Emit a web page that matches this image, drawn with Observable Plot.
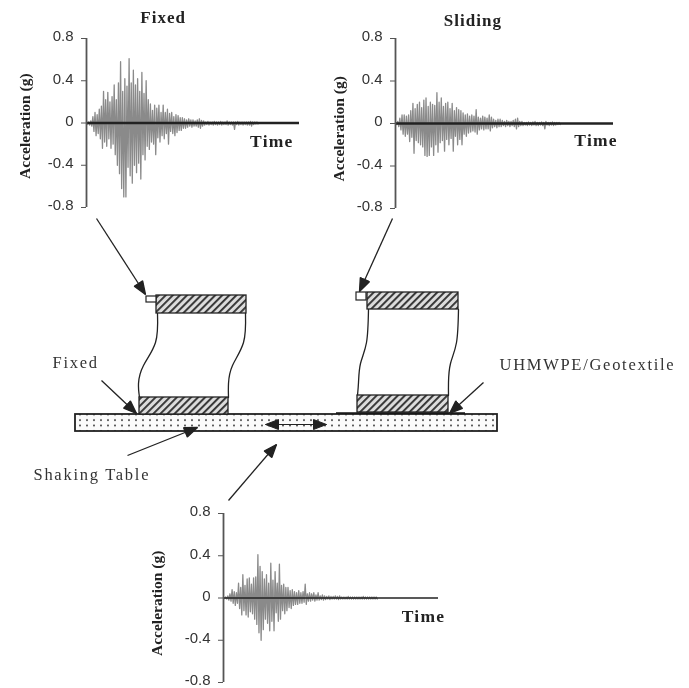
<!DOCTYPE html>
<html>
<head>
<meta charset="utf-8">
<script src="https://cdn.jsdelivr.net/npm/d3@7"></script>
<script src="https://cdn.jsdelivr.net/npm/@observablehq/plot@0.6"></script>
<style>
html,body{margin:0;padding:0;background:#fff}
#fig{position:relative;width:689px;height:688px;overflow:hidden;filter:blur(0.5px)}
#fig svg{position:absolute;overflow:visible;background:transparent}
</style>
</head>
<body>
<div id="fig"></div>
<script>
// Acceleration peaks, one up/down pair per time step
const fixedUp = [.01,.01,.02,.06,.10,.08,.13,.16,.30,.22,.29,.20,.25,.36,.22,.38,.58,.30,.42,.35,.61,.38,.50,.36,.42,.30,.48,.28,.40,.22,.18,.12,.17,.14,.17,.10,.17,.10,.13,.09,.10,.06,.08,.07,.05,.05,.04,.03,.04,.03,.03,.02,.03,.04,.025,.02,.01,.015,.01,.01,.015,.01,.01,.015,.01,.01,.02,.01,.01,.01,.01,.015,.01,.01,.01,.01,.01,.015,.01,.01,.01];
const fixedDown = [-.01,-.02,-.03,-.08,-.12,-.10,-.15,-.24,-.18,-.22,-.15,-.24,-.20,-.30,-.40,-.48,-.62,-.70,-.70,-.42,-.50,-.57,-.40,-.47,-.38,-.53,-.30,-.35,-.22,-.25,-.18,-.20,-.30,-.14,-.18,-.12,-.15,-.10,-.20,-.08,-.10,-.12,-.09,-.07,-.07,-.05,-.05,-.04,-.03,-.04,-.03,-.03,-.04,-.05,-.03,-.02,-.015,-.02,-.015,-.02,-.015,-.02,-.015,-.02,-.015,-.015,-.02,-.015,-.02,-.06,-.015,-.02,-.015,-.02,-.015,-.02,-.02,-.03,-.015,-.01,-.01];
const slidingUp = [.01,.02,.05,.08,.08,.07,.08,.12,.19,.14,.18,.20,.15,.22,.24,.16,.20,.18,.17,.29,.20,.24,.16,.19,.20,.14,.19,.12,.15,.13,.12,.10,.08,.09,.07,.08,.07,.13,.06,.05,.07,.06,.05,.08,.06,.04,.03,.04,.04,.03,.02,.03,.02,.02,.03,.04,.05,.02,.02,.01,.01,.015,.01,.015,.02,.01,.01,.015,.01,.02,.01,.01,.015,.01,.01,.01];
const slidingDown = [-.01,-.03,-.06,-.10,-.12,-.10,-.17,-.13,-.28,-.16,-.18,-.20,-.22,-.30,-.31,-.30,-.22,-.30,-.20,-.27,-.18,-.16,-.26,-.15,-.20,-.14,-.26,-.12,-.20,-.15,-.20,-.10,-.12,-.09,-.08,-.07,-.08,-.10,-.06,-.05,-.06,-.05,-.05,-.07,-.04,-.03,-.04,-.03,-.03,-.02,-.03,-.02,-.03,-.02,-.03,-.05,-.03,-.02,-.02,-.015,-.02,-.015,-.02,-.015,-.02,-.02,-.015,-.02,-.05,-.015,-.02,-.015,-.02,-.015,-.01,-.01];
const tableUp = [.005,.01,.02,.04,.08,.06,.05,.14,.10,.22,.12,.18,.19,.13,.19,.20,.41,.30,.25,.18,.22,.14,.33,.17,.25,.14,.32,.12,.13,.10,.10,.07,.08,.06,.05,.07,.05,.06,.13,.04,.05,.04,.05,.03,.05,.02,.03,.02,.015,.02,.015,.015,.02,.015,.02,.01,.01,.01,.015,.01,.01,.01,.01,.01,.01,.015,.01,.01,.01,.01,.01,.01];
const tableDown = [-.005,-.01,-.02,-.03,-.05,-.07,-.05,-.10,-.16,-.12,-.16,-.18,-.13,-.15,-.20,-.25,-.33,-.40,-.30,-.20,-.24,-.31,-.22,-.31,-.14,-.22,-.20,-.12,-.15,-.12,-.09,-.10,-.07,-.06,-.06,-.05,-.05,-.04,-.06,-.03,-.03,-.02,-.03,-.02,-.02,-.015,-.02,-.015,-.01,-.015,-.01,-.01,-.01,-.015,-.01,-.01,-.01,-.01,-.01,-.01,-.01,-.01,-.01,-.01,-.01,-.01,-.01,-.01,-.01,-.01,-.01,-.01];
const accelTicks = [-.8,-.4,0,.4,.8];
const tickLabels = ["-0.8","-0.4","0","0.4","0.8"];

// Test set-up sketch, in page units
const blocks = [
  {x1:156,x2:246,y1:295,y2:313},{x1:139,x2:228,y1:397,y2:414},
  {x1:367,x2:458,y1:292,y2:309},{x1:357,x2:448,y1:395,y2:412}];
const sensors = [{x1:146,x2:156,y1:296,y2:302},{x1:356,x2:366,y1:292,y2:300}];
const shakingTable = [{x1:75,x2:497,y1:414,y2:431}];
const interfaceLayer = [{x1:336,x2:465,y:412.5}];
const walls = [
  [[157,313],[155,342],[143,365],[138,383],[139,397]],
  [[245,313],[243,342],[232,365],[228,383],[228,397]],
  [[368,309],[366,342],[360,363],[358,382],[357,395]],
  [[458,309],[456,342],[450,363],[448,382],[448,395]]];
const arrows = [
  {x1:96,y1:218,x2:145,y2:294},{x1:392,y1:218,x2:359,y2:291},
  {x1:101,y1:380,x2:136,y2:413},{x1:127,y1:455,x2:197,y2:427},
  {x1:228,y1:500,x2:276,y2:444},{x1:483,y1:382,x2:449,y2:413}];
const shakeArrow = [{x1:265,y1:424,x2:326,y2:424}];
const notes = [
  {x:52,y:362,s:"Fixed"},{x:33,y:474,s:"Shaking Table"},{x:499,y:364,s:"UHMWPE/Geotextile"}];

const serif = "'Liberation Serif','Times New Roman',serif";
const sans = "'Liberation Sans',Arial,sans-serif";
const fig = document.getElementById("fig");

function head(color){
  const m = d3.create("svg:marker")
    .attr("viewBox","-14 -7 16 14").attr("markerWidth",16).attr("markerHeight",14)
    .attr("markerUnits","userSpaceOnUse").attr("orient","auto-start-reverse");
  m.append("path").attr("d","M-13,-5L0,0L-13,5Z").attr("fill",color);
  return m.node();
}
function defs(){
  const d = d3.create("svg:defs");
  const h = d.append("pattern").attr("id","hatch").attr("width",5).attr("height",5)
    .attr("patternUnits","userSpaceOnUse").attr("patternTransform","rotate(45)");
  h.append("rect").attr("width",5).attr("height",5).attr("fill","#dcdcdc");
  h.append("rect").attr("width",1.9).attr("height",5).attr("fill","#333");
  const p = d.append("pattern").attr("id","dots").attr("width",7).attr("height",5.5)
    .attr("patternUnits","userSpaceOnUse");
  p.append("rect").attr("width",7).attr("height",5.5).attr("fill","#fbfbfb");
  p.append("circle").attr("cx",3).attr("cy",2).attr("r",.95).attr("fill","#222");
  return d.node();
}
function spaced(px){
  return (i,s,v,d,c,next)=>{const g=next(i,s,v,d,c);g.setAttribute("style",`letter-spacing:${px}px`);return g;};
}

const sketch = Plot.plot({
  width:689,height:688,margin:0,
  x:{domain:[0,689],range:[0,689],axis:null},
  y:{domain:[0,688],range:[0,688],axis:null},
  marks:[
    defs,
    Plot.rect(shakingTable,{x1:"x1",x2:"x2",y1:"y1",y2:"y2",fill:"url(#dots)",stroke:"#222",strokeWidth:1.8}),
    ...walls.map(w=>Plot.line(w,{x:"0",y:"1",stroke:"#222",strokeWidth:1.3,curve:"natural"})),
    Plot.rect(blocks,{x1:"x1",x2:"x2",y1:"y1",y2:"y2",fill:"url(#hatch)",stroke:"#222",strokeWidth:1.3}),
    Plot.rect(sensors,{x1:"x1",x2:"x2",y1:"y1",y2:"y2",fill:"#fff",stroke:"#222",strokeWidth:1.2}),
    Plot.ruleY(interfaceLayer,{x1:"x1",x2:"x2",y:"y",stroke:"#111",strokeWidth:1.6}),
    Plot.link(arrows,{x1:"x1",y1:"y1",x2:"x2",y2:"y2",stroke:"#222",strokeWidth:1.3,markerEnd:head}),
    Plot.link(shakeArrow,{x1:"x1",y1:"y1",x2:"x2",y2:"y2",stroke:"#222",strokeWidth:1,markerStart:head,markerEnd:head}),
    Plot.text(notes,{x:"x",y:"y",text:"s",textAnchor:"start",fontFamily:serif,fontSize:16.5,fontWeight:500,fill:"#333",render:spaced(1.72)})
  ]
});
sketch.style.left="0px";sketch.style.top="0px";
fig.appendChild(sketch);

function record({up,down,left,top,width,height,ml,mr,mt,mb,title,titleT,titleV,timeT,timeV,labelT,labelV,lineW}){
  const signal = up.flatMap((v,i)=>[{t:i,a:v},{t:i+.5,a:down[i]}]);
  const boldText = {fontFamily:serif,fontWeight:"bold",fill:"#222"};
  const marks = [
    Plot.line(signal,{x:"t",y:"a",stroke:"#8a8a8a",strokeWidth:1.3}),
    Plot.ruleY([0],{x1:0,x2:100,stroke:"#222",strokeWidth:lineW}),
    Plot.ruleX([0],{y1:-.8,y2:.8,stroke:"#555",strokeWidth:1.8}),
    Plot.axisY(accelTicks,{anchor:"left",label:null,tickSize:5,stroke:"#555",fill:"none"}),
    Plot.axisY(accelTicks,{anchor:"left",label:null,tickSize:0,tickPadding:13,stroke:"none",dy:-2,
      tickFormat:(d,i)=>tickLabels[i],fontFamily:sans,fontSize:15,fill:"#333"}),
    Plot.text(["Time"],{x:timeT,y:timeV,fontSize:17.5,...boldText,render:spaced(1.2)}),
    Plot.text(["Acceleration (g)"],{x:labelT,y:labelV,rotate:-90,fontSize:15.5,...boldText})
  ];
  if(title) marks.push(Plot.text([title],{x:titleT,y:titleV,fontSize:17,...boldText,render:spaced(1.05)}));
  const p = Plot.plot({
    width,height,marginLeft:ml,marginRight:mr,marginTop:mt,marginBottom:mb,
    x:{domain:[0,100],axis:null},
    y:{domain:[-.8,.8],axis:null},
    marks
  });
  p.style.left=left+"px";p.style.top=top+"px";
  fig.appendChild(p);
}
record({up:fixedUp,down:fixedDown,left:0,top:0,width:320,height:220,ml:86,mr:21,mt:38,mb:13,
  title:"Fixed",titleT:36,titleV:.995,timeT:87,timeV:-.17,labelT:-29,labelV:-.03,lineW:2.4});
record({up:slidingUp,down:slidingDown,left:320,top:0,width:320,height:220,ml:75,mr:27,mt:38,mb:12,
  title:"Sliding",titleT:35.5,titleV:.97,timeT:92,timeV:-.16,labelT:-26,labelV:-.05,lineW:2.4});
record({up:tableUp,down:tableDown,left:140,top:490,width:320,height:198,ml:83,mr:22,mt:23,mb:6,
  timeT:93,timeV:-.17,labelT:-31,labelV:-.05,lineW:1.6});
</script>
</body>
</html>
